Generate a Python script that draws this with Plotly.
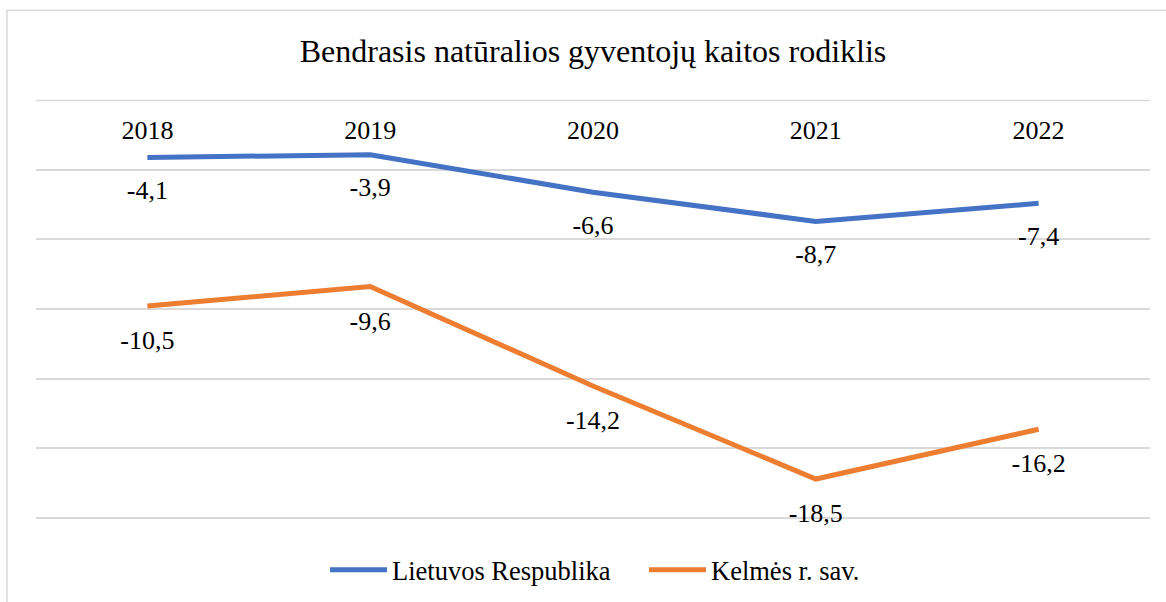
import plotly.graph_objects as go

years = ["2018", "2019", "2020", "2021", "2022"]
lietuva = [-4.1, -3.9, -6.6, -8.7, -7.4]
kelme = [-10.5, -9.6, -14.2, -18.5, -16.2]
series_names = ["Lietuvos Respublika", "Kelmės r. sav."]
title_text = "Bendrasis natūralios gyventojų kaitos rodiklis"

FONT = "Liberation Serif, Times New Roman, serif"
BLUE = "#4472C4"
ORANGE = "#ED7D31"
GRID = "#D9D9D9"

W, H = 1166, 602
ML, MR, MT, MB = 36, 16, 97.2, 80.8
PW, PH = W - ML - MR, H - MT - MB


def px_x(x):
    return (x - ML) / PW


def px_y(y):
    return (H - MB - y) / PH


fig = go.Figure()
fig.add_trace(go.Scatter(
    x=years, y=lietuva, name=series_names[0], mode="lines+markers+text",
    line=dict(color=BLUE, width=5),
    marker=dict(size=34, color="rgba(0,0,0,0)"),
    texttemplate="%{y:.1f}", textposition="bottom center",
    textfont=dict(family=FONT, size=26, color="black"),
    yaxis="y", cliponaxis=False,
))
fig.add_trace(go.Scatter(
    x=years, y=kelme, name=series_names[1], mode="lines+markers+text",
    line=dict(color=ORANGE, width=5),
    marker=dict(size=36, color="rgba(0,0,0,0)"),
    texttemplate="%{y:.1f}", textposition="bottom center",
    textfont=dict(family=FONT, size=26, color="black"),
    yaxis="y2", cliponaxis=False,
))

fig.update_layout(
    width=W, height=H,
    margin=dict(l=ML, r=MR, t=MT, b=MB, autoexpand=False),
    paper_bgcolor="white", plot_bgcolor="white",
    separators=", ",
    font=dict(family=FONT, size=26, color="black"),
    title=dict(text=title_text, x=0.5, xref="paper", xanchor="center",
               y=1 - 51 / H, yref="container", yanchor="middle",
               font=dict(family=FONT, size=32, color="black")),
    xaxis=dict(type="category", categoryorder="array", categoryarray=years,
               range=[-0.5, 4.5], side="top", ticklabelposition="inside",
               ticks="inside", ticklen=26, tickcolor="rgba(0,0,0,0)",
               showgrid=False, showline=False, zeroline=False, automargin=False,
               tickfont=dict(family=FONT, size=26, color="black")),
    yaxis=dict(range=[-30.25, 0.25], dtick=5, tick0=0, showticklabels=False,
               showgrid=True, gridcolor=GRID, gridwidth=1.5,
               zeroline=True, zerolinecolor=GRID, zerolinewidth=1.5,
               showline=False, automargin=False),
    yaxis2=dict(range=[-20.44, -0.837], overlaying="y", side="right",
                visible=False, showgrid=False, zeroline=False),
    legend=dict(orientation="h", x=(331 - 6) / W, xanchor="left", xref="container",
                y=1 - 570 / H, yanchor="middle", yref="container",
                itemwidth=57, entrywidth=247, entrywidthmode="pixels",
                font=dict(family=FONT, size=26.5, color="black"),
                bgcolor="rgba(0,0,0,0)"),
    showlegend=True,
    shapes=[
        dict(type="rect", xref="paper", yref="paper",
             x0=px_x(7), x1=px_x(1175),
             y0=px_y(610), y1=px_y(10.5),
             line=dict(color=GRID, width=1.5),
             fillcolor="rgba(0,0,0,0)", layer="below"),
        dict(type="line", xref="paper", yref="y", x0=0, x1=1, y0=0, y1=0,
             line=dict(color=GRID, width=1.5), layer="below"),
    ],
)

fig.write_html("out.html", config={"displayModeBar": False},
               post_script="document.body.style.margin='0';")
